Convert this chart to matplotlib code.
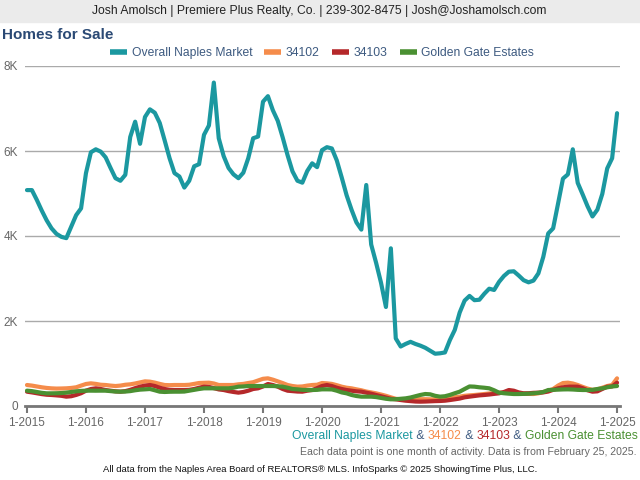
import matplotlib
matplotlib.use('Agg')
import matplotlib.pyplot as plt
from matplotlib.lines import Line2D

plt.rcParams['font.family'] = ['Liberation Sans', 'DejaVu Sans']

# 月度数据 2015-01 .. 2025-01
overall = [5080, 5080, 4850, 4600, 4370, 4180, 4050, 3980, 3950, 4220, 4490, 4650,
           5480, 5970, 6040, 5985, 5850, 5600, 5360, 5300, 5440, 6330, 6690, 6170,
           6800, 6980, 6900, 6660, 6250, 5830, 5480, 5400, 5140, 5300, 5640, 5690,
           6380, 6600, 7610, 6300, 5880, 5600, 5450, 5360, 5490, 5830, 6300, 6340,
           7160, 7290, 6960, 6710, 6320, 5900, 5520, 5300, 5255, 5530, 5710, 5620,
           6020, 6090, 6060, 5780, 5380, 4960, 4620, 4320, 4150, 5200, 3800, 3370,
           2900, 2330, 3710, 1590, 1400, 1460, 1510, 1460, 1420, 1370, 1300, 1230,
           1240, 1260, 1550, 1790, 2200, 2480, 2590, 2490, 2500, 2640, 2760, 2730,
           2920, 3060, 3160, 3170, 3070, 2960, 2910, 2950, 3120, 3510, 4060, 4180,
           4760, 5350, 5450, 6040, 5250, 4980, 4700, 4460, 4620, 4990, 5590, 5830,
           6890]
zip_34102 = [494, 480, 460, 440, 425, 415, 410, 412, 416, 425, 440, 480,
             518, 533, 520, 500, 494, 480, 470, 480, 500, 510, 530, 555,
             580, 573, 550, 520, 494, 490, 494, 494, 494, 500, 520, 541,
             545, 549, 530, 494, 494, 494, 494, 510, 520, 541, 560, 600,
             640, 651, 620, 580, 540, 494, 470, 455, 460, 480, 494, 500,
             541, 533, 520, 490, 455, 430, 416, 392, 370, 340, 320, 298,
             270, 240, 204, 170, 157, 157, 157, 160, 160, 160, 157, 157,
             160, 170, 190, 205, 220, 240, 250, 259, 270, 282, 295, 305,
             314, 314, 310, 305, 298, 290, 285, 282, 298, 330, 360, 400,
             480, 540, 549, 530, 494, 450, 410, 380, 392, 430, 470, 494,
             651]
zip_34103 = [337, 320, 300, 280, 265, 259, 250, 240, 220, 230, 260, 300,
             360, 400, 416, 400, 376, 360, 345, 337, 350, 380, 420, 455,
             480, 494, 470, 430, 400, 380, 376, 376, 376, 380, 400, 430,
             455, 450, 420, 390, 376, 350, 330, 314, 330, 360, 400, 416,
             460, 518, 494, 455, 400, 360, 350, 340, 337, 360, 376, 420,
             470, 494, 470, 430, 400, 376, 360, 345, 337, 314, 290, 259,
             230, 200, 170, 157, 140, 125, 115, 105, 102, 105, 110, 115,
             118, 125, 140, 157, 175, 204, 220, 235, 250, 259, 270, 285,
             298, 330, 376, 360, 320, 298, 300, 310, 314, 320, 340, 380,
             416, 440, 455, 455, 455, 420, 370, 337, 345, 400, 455, 460,
             549]
golden_gate = [361, 350, 330, 310, 298, 298, 300, 305, 314, 330, 345, 355,
               361, 361, 360, 361, 361, 350, 340, 337, 340, 350, 370, 385,
               392, 400, 370, 337, 330, 335, 337, 337, 340, 360, 380, 400,
               416, 416, 416, 416, 416, 416, 430, 455, 460, 470, 470, 470,
               470, 470, 470, 465, 455, 430, 400, 392, 380, 376, 376, 380,
               392, 392, 390, 360, 320, 298, 260, 235, 220, 220, 220, 210,
               190, 170, 157, 160, 170, 180, 200, 230, 260, 282, 275, 240,
               220, 230, 260, 300, 337, 400, 460, 455, 440, 430, 416, 370,
               314, 300, 290, 282, 282, 285, 290, 298, 310, 330, 376, 380,
               385, 390, 392, 388, 380, 376, 376, 380, 400, 416, 440, 460,
               470]
series_names = ['Overall Naples Market', '34102', '34103', 'Golden Gate Estates']
series_colors = ['#1b98a0', '#f58c4b', '#b5282a', '#4a9032']
year_labels = ['1-%d' % y for y in range(2015, 2026)]
y_ticks = [0, 2000, 4000, 6000, 8000]
y_labels = ['0', '2K', '4K', '6K', '8K']

W, H = 640, 480
def fx(x): return x / W
def fy(y): return 1 - y / H

fig = plt.figure(figsize=(6.4, 4.8), dpi=100)
fig.patch.set_facecolor('white')

# 顶部灰条
fig.patches.append(plt.Rectangle((0, fy(22)), 1, 22 / H, transform=fig.transFigure,
                                 color='#ebebeb', zorder=0))
fig.text(fx(319), fy(11), 'Josh Amolsch | Premiere Plus Realty, Co. | 239-302-8475 | Josh@Joshamolsch.com',
         ha='center', va='center', fontsize=8.75, color='#222222')
fig.text(fx(2), fy(35), 'Homes for Sale', ha='left', va='center', fontsize=11,
         fontweight='bold', color='#2b4a75')

ax = fig.add_axes([fx(25), fy(406), (620 - 25) / W, 340 / H])
months = list(range(len(overall)))
for vals, name, col in zip([overall, zip_34102, zip_34103, golden_gate], series_names, series_colors):
    ax.plot(months, vals, color=col, lw=3, label=name, solid_joinstyle='round', solid_capstyle='round')

ax.set_xlim(-0.4, 120.6)
ax.set_ylim(0, 8000)
ax.set_yticks(y_ticks)
ax.set_yticklabels(y_labels)
ax.set_xticks(range(0, 121, 12))
ax.set_xticklabels(year_labels)
ax.grid(axis='y', color='#aaaaaa', lw=1)
ax.set_axisbelow(True)
for s in ['top', 'right', 'left']:
    ax.spines[s].set_visible(False)
ax.spines['bottom'].set_color('#777777')
ax.spines['bottom'].set_linewidth(2)
ax.tick_params(axis='x', length=5, width=1.5, color='#777777', labelsize=8.5, labelcolor='#666666', pad=3)
ax.tick_params(axis='y', length=0, labelsize=8.5, labelcolor='#666666', pad=5)

handles = [Line2D([], [], color=c, lw=4, solid_capstyle='butt') for c in series_colors]
leg = fig.legend(handles, series_names, loc='center', bbox_to_anchor=(fx(322), fy(53)), ncol=4,
                 frameon=False, fontsize=8.7, handlelength=1.4, handletextpad=0.4, columnspacing=1.0)
for t in leg.get_texts():
    t.set_color('#3d5a80')

# 底部彩色说明
pieces = []
for i, (name, col) in enumerate(zip(series_names, series_colors)):
    if i > 0:
        pieces.append((' & ', '#3d5a80'))
    pieces.append((name, col))
fig.canvas.draw()
r = fig.canvas.get_renderer()
x_right = 638
for txt, col in reversed(pieces):
    t = fig.text(fx(x_right), fy(436), txt, ha='right', va='center', fontsize=8.7, color=col)
    bb = t.get_window_extent(renderer=r)
    x_right -= bb.width

fig.text(fx(637), fy(452), 'Each data point is one month of activity. Data is from February 25, 2025.',
         ha='right', va='center', fontsize=7.6, color='#666666')
fig.text(fx(320), fy(470), 'All data from the Naples Area Board of REALTORS® MLS. InfoSparks © 2025 ShowingTime Plus, LLC.',
         ha='center', va='center', fontsize=6.8, color='#111111')

fig.savefig('out.png', dpi=100)
